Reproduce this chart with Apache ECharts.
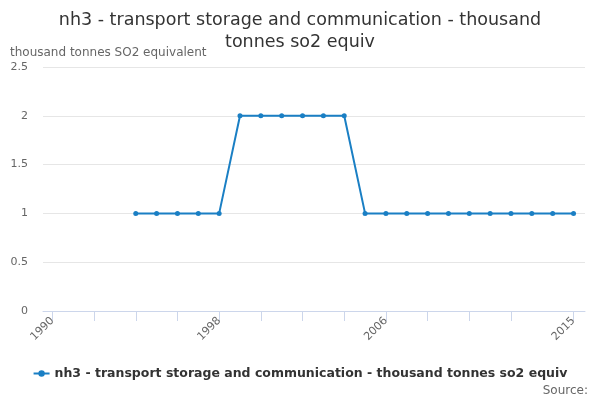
<!DOCTYPE html>
<html><head><meta charset="utf-8">
<script src="https://cdn.jsdelivr.net/npm/echarts@6/dist/echarts.min.js"></script>
<style>html,body{margin:0;padding:0;background:#fff}#c{width:600px;height:400px}</style>
</head><body><div id="c"></div>
<script>
const years = [1994,1995,1996,1997,1998,1999,2000,2001,2002,2003,2004,2005,2006,2007,2008,2009,2010,2011,2012,2013,2014,2015];
const values = [1,1,1,1,1,2,2,2,2,2,2,1,1,1,1,1,1,1,1,1,1,1];
const xTicks = [1990,1992,1994,1996,1998,2000,2002,2004,2006,2008,2010,2012,2015];
const xLabels = [1990,1998,2006,2015];
const seriesName = 'nh3 - transport storage and communication - thousand tonnes so2 equiv';
const titleText = 'nh3 - transport storage and communication - thousand\ntonnes so2 equiv';
const yTitle = 'thousand tonnes SO2 equivalent';

const chart = echarts.init(document.getElementById('c'));
chart.setOption({
  animation: false,
  title: [{
    text: titleText, left: 'center', top: 4,
    textStyle: {fontFamily: 'DejaVu Sans', fontSize: 17.5, fontWeight: 'normal', color: '#333', lineHeight: 22}
  }, {
    text: yTitle, left: 10, top: 47, padding: 0,
    textStyle: {fontFamily: 'DejaVu Sans', fontSize: 12, fontWeight: 'normal', color: '#666'}
  }, {
    text: 'Source:', right: 12, top: 385, padding: 0,
    textStyle: {fontFamily: 'DejaVu Sans', fontSize: 12, fontWeight: 'normal', color: '#666'}
  }],
  legend: {
    top: 362, left: 'center', itemWidth: 16, itemHeight: 8, itemGap: 5,
    textStyle: {fontFamily: 'DejaVu Sans', fontSize: 12.5, fontWeight: 'bold', color: '#333'},
    data: [seriesName]
  },
  grid: {left: 43, right: 15, top: 67, bottom: 89, containLabel: false},
  xAxis: {
    type: 'value', min: 1989.55, max: 2015.55,
    axisLine: {show: true, lineStyle: {color: '#ccd6eb'}},
    axisTick: {show: true, customValues: xTicks, length: 10, lineStyle: {color: '#ccd6eb'}},
    axisLabel: {customValues: xLabels, rotate: 45, color: '#666', fontFamily: 'DejaVu Sans', fontSize: 11, margin: 8,
      formatter: v => String(Math.round(v))},
    splitLine: {show: false}
  },
  yAxis: {
    type: 'value', min: 0, max: 2.5, interval: 0.5,
    axisLine: {show: false}, axisTick: {show: false},
    axisLabel: {color: '#666', fontFamily: 'DejaVu Sans', fontSize: 11, margin: 15},
    splitLine: {lineStyle: {color: '#e6e6e6'}}
  },
  series: [{
    name: seriesName, type: 'line',
    data: years.map((y, i) => [y, values[i]]),
    color: '#1a7fc4',
    lineStyle: {width: 2},
    symbol: 'circle', symbolSize: 5,
    itemStyle: {color: '#1a7fc4'}
  }]
});
</script></body></html>
